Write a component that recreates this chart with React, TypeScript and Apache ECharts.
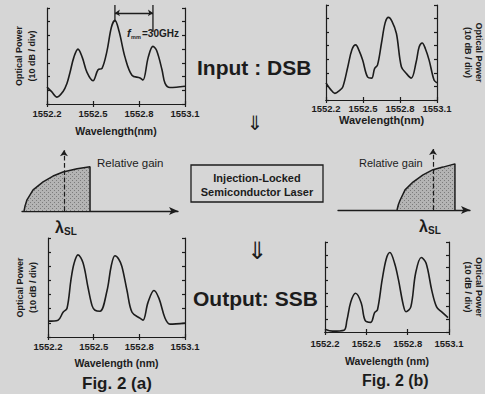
import React, { useEffect, useRef } from 'react';
import * as echarts from 'echarts';

const FONT = '"Liberation Sans", Arial, Helvetica, sans-serif';
const INK = '#1c1c1c';

// Wavelength axis
const WL_MIN = 1552.2;
const WL_MAX = 1553.1;
const WL_STEP = 0.3;
const wlTickLabels = ['1552.2', '1552.5', '1552.8', '1553.1'];

// Optical power (in 10 dB divisions)
const inputDsbA: [number, number][] = [
  [1552.2, 1.24], [1552.23, 0.9], [1552.265, 0.5], [1552.304, 0.9], [1552.33, 1.5], [1552.35, 2.3],
  [1552.375, 3.4], [1552.402, 4.0], [1552.43, 3.4], [1552.461, 2.3], [1552.5, 1.7], [1552.533, 2.5],
  [1552.559, 2.6], [1552.59, 3.8], [1552.62, 5.6], [1552.643, 6.1], [1552.67, 5.3], [1552.709, 3.4],
  [1552.754, 2.1], [1552.807, 1.9], [1552.826, 1.75], [1552.86, 3.4], [1552.891, 4.2], [1552.915, 3.9],
  [1552.95, 2.5], [1552.97, 1.5], [1553.002, 1.2], [1553.1, 1.3],
];
const inputDsbB: [number, number][] = [
  [1552.2, 1.26], [1552.235, 0.8], [1552.272, 0.49], [1552.31, 0.7], [1552.337, 0.98], [1552.377, 2.45],
  [1552.41, 3.7], [1552.441, 4.06], [1552.47, 3.6], [1552.497, 2.94], [1552.538, 1.68], [1552.57, 1.61],
  [1552.594, 2.31], [1552.618, 2.59], [1552.65, 4.2], [1552.68, 5.7], [1552.706, 6.09], [1552.735, 5.8],
  [1552.771, 4.9], [1552.811, 2.45], [1552.851, 1.96], [1552.891, 1.61], [1552.931, 2.8], [1552.955, 3.9],
  [1552.98, 4.2], [1553.005, 3.8], [1553.036, 2.94], [1553.076, 1.47], [1553.1, 1.26],
];
const outputSsbA: [number, number][] = [
  [1552.2, 1.12], [1552.266, 1.19], [1552.299, 1.75], [1552.325, 2.03], [1552.351, 4.06], [1552.371, 5.2],
  [1552.397, 5.81], [1552.43, 5.25], [1552.463, 3.5], [1552.49, 2.2], [1552.509, 1.89], [1552.542, 1.82],
  [1552.588, 3.29], [1552.615, 5.0], [1552.64, 5.74], [1552.665, 5.5], [1552.686, 4.97], [1552.719, 3.29],
  [1552.752, 1.75], [1552.804, 1.33], [1552.824, 1.19], [1552.857, 2.45], [1552.896, 3.29], [1552.929, 2.73],
  [1552.969, 1.33], [1553.001, 0.91], [1553.1, 0.98],
];
const outputSsbB: [number, number][] = [
  [1552.2, 0.22], [1552.255, 0.07], [1552.338, 0.14], [1552.359, 0.9], [1552.387, 2.33], [1552.422, 3.01],
  [1552.463, 2.26], [1552.491, 0.9], [1552.532, 0.75], [1552.56, 1.5], [1552.581, 1.73], [1552.615, 4.07],
  [1552.645, 5.7], [1552.671, 6.18], [1552.705, 5.35], [1552.733, 4.07], [1552.768, 2.11], [1552.788, 1.58],
  [1552.823, 1.95], [1552.858, 4.59], [1552.899, 5.8], [1552.934, 5.35], [1552.975, 3.24], [1553.01, 1.95],
  [1553.045, 1.58], [1553.093, 1.12],
];

// Relative gain curves (arbitrary units)
const gainA: [number, number][] = [
  [0.13, 0], [0.2, 0.08], [0.32, 0.17], [0.71, 0.32], [1.35, 0.44], [1.99, 0.53], [2.63, 0.59],
  [3.53, 0.64], [4.36, 0.67], [4.36, 0],
];
const gainB: [number, number][] = [
  [4.47, 0], [4.57, 0.08], [4.7, 0.15], [5.08, 0.31], [5.68, 0.43], [6.44, 0.54], [7.2, 0.62],
  [7.95, 0.66], [8.86, 0.71], [8.86, 0],
];
const lockA = 2.69;
const lockB = 7.2;

// f_mm marker (peaks of the DSB input): x, top of marker, bottom of marker (in divisions)
const fmmPeaks = [1552.643, 1552.891];
const fmmTop = 7.22;
const fmmBottoms = [5.98, 5.25];
const fmmArrowLevel = 6.64;

function stipple() {
  const c = document.createElement('canvas');
  c.width = 4;
  c.height = 4;
  const g = c.getContext('2d')!;
  g.fillStyle = '#b4b4b4';
  g.fillRect(0, 0, 4, 4);
  g.fillStyle = '#7c7c7c';
  g.fillRect(0, 0, 1, 1);
  g.fillRect(2, 2, 1, 1);
  return c;
}

const grids = [
  { left: 47, top: 8, width: 138, height: 96 },
  { left: 326, top: 5, width: 112, height: 95 },
  { left: 48, top: 238, width: 137, height: 99 },
  { left: 325, top: 242, width: 128, height: 90 },
  { left: 22, top: 145, width: 156, height: 66 },
  { left: 338, top: 145, width: 132, height: 65 },
];

const plotCfg = [
  { name: 'Wavelength(nm)', nameGap: 21, labelMargin: 4, nameSize: 10.5, side: 'left', yGap: 9 },
  { name: 'Wavelength(nm)', nameGap: 14, labelMargin: 3, nameSize: 11, side: 'right', yGap: 25 },
  { name: 'Wavelength (nm)', nameGap: 20, labelMargin: 4, nameSize: 10.5, side: 'left', yGap: 9 },
  { name: 'Wavelength (nm)', nameGap: 23, labelMargin: 6, nameSize: 10.5, side: 'right', yGap: 13 },
];

export default function App() {
  const ref = useRef<HTMLDivElement>(null);
  useEffect(() => {
    if (!ref.current) return;
    const chart = echarts.init(ref.current, undefined, { renderer: 'svg' });
    const line = { color: INK, width: 1.2 };
    const tick = { show: true, inside: true, length: 3, lineStyle: line };
    const xAxis: any[] = [];
    const yAxis: any[] = [];
    plotCfg.forEach((p, i) => {
      xAxis.push({
        type: 'value', gridIndex: i, position: 'bottom', min: WL_MIN, max: WL_MAX, interval: WL_STEP,
        axisLine: { show: true, lineStyle: line }, axisTick: tick, splitLine: { show: false },
        axisLabel: {
          margin: p.labelMargin, fontSize: 9.5, fontWeight: 'bold', color: INK, fontFamily: FONT,
          formatter: (v: number) => {
            const s = v.toFixed(1);
            return wlTickLabels.includes(s) ? s : '';
          },
        },
        name: p.name, nameLocation: 'middle', nameGap: p.nameGap,
        nameTextStyle: { fontSize: p.nameSize, fontWeight: 'bold', color: INK, fontFamily: FONT },
      });
      xAxis.push({
        type: 'value', gridIndex: i, position: 'top', min: WL_MIN, max: WL_MAX, interval: WL_STEP,
        axisLine: { show: true, lineStyle: line }, axisTick: tick, axisLabel: { show: false }, splitLine: { show: false },
      });
      const yName = {
        name: 'Optical Power\n(10 dB / div)', nameLocation: 'middle',
        nameTextStyle: { fontSize: 9, fontWeight: 'bold', color: INK, fontFamily: FONT, lineHeight: p.side === 'left' ? 12.5 : 11 },
      };
      yAxis.push({
        type: 'value', gridIndex: i, position: 'left', min: 0, max: 7, interval: 1,
        axisLine: { show: true, lineStyle: line }, axisTick: tick, axisLabel: { show: false }, splitLine: { show: false },
        ...(p.side === 'left' ? { ...yName, nameRotate: 90, nameGap: p.yGap } : {}),
      });
      yAxis.push({
        type: 'value', gridIndex: i, position: 'right', min: 0, max: 7, interval: 1,
        axisLine: { show: true, lineStyle: line }, axisTick: tick, axisLabel: { show: false }, splitLine: { show: false },
        ...(p.side === 'right' ? { ...yName, nameRotate: -90, nameGap: p.yGap } : {}),
      });
    });
    [4, 5].forEach((g) => {
      xAxis.push({
        type: 'value', gridIndex: g, min: 0, max: 10,
        axisLine: { show: true, symbol: ['none', 'arrow'], symbolSize: [6, 9], lineStyle: { color: INK, width: 1.3 } },
        axisTick: { show: false }, axisLabel: { show: false }, splitLine: { show: false },
      });
      yAxis.push({ type: 'value', gridIndex: g, min: 0, max: 1, show: false });
    });

    const spec = (data: [number, number][], idx: number, extra: any = {}) => ({
      type: 'line', xAxisIndex: idx * 2, yAxisIndex: idx * 2, data, smooth: 0.35,
      showSymbol: false, lineStyle: { color: INK, width: 1.6 }, silent: true, ...extra,
    });
    const pattern = { image: stipple(), repeat: 'repeat' };
    const gain = (data: [number, number][], idx: number, lock: number, top: number) => ({
      type: 'line', xAxisIndex: idx, yAxisIndex: idx, data, showSymbol: false, silent: true,
      lineStyle: { color: INK, width: 1.5 }, areaStyle: { color: pattern, opacity: 1 },
      markLine: {
        silent: true, symbol: ['none', 'arrow'], symbolSize: 6, label: { show: false },
        lineStyle: { color: INK, width: 1.2, type: 'dashed' },
        data: [[{ coord: [lock, 0] }, { coord: [lock, top] }]],
      },
    });

    const txt = (x: number, y: number, text: string, fontSize: number, extra: any = {}) => ({
      type: 'text', x, y,
      style: { text, fontSize, fill: INK, fontFamily: FONT, verticalAlign: 'middle', ...extra },
    });

    chart.setOption({
      animation: false,
      backgroundColor: '#d6d6d6',
      grid: grids,
      xAxis,
      yAxis,
      series: [
        spec(inputDsbA, 0, {
          markLine: {
            silent: true, label: { show: false },
            lineStyle: { color: INK, width: 1.3, type: 'solid' },
            data: [
              [
                { coord: [fmmPeaks[0], fmmArrowLevel], symbol: 'arrow', symbolSize: 5 },
                { coord: [fmmPeaks[1], fmmArrowLevel], symbol: 'arrow', symbolSize: 5 },
              ],
            ],
          },
        }),
        spec(inputDsbB, 1),
        spec(outputSsbA, 2),
        spec(outputSsbB, 3),
        gain(gainA, 8, lockA, 0.92),
        gain(gainB, 9, lockB, 0.94),
      ],
      graphic: [
        txt(127, 33, 'f', 11, { fontStyle: 'italic', fontWeight: 'bold' }),
        txt(131, 36.5, 'mm', 5.5, { fontWeight: 'bold' }),
        txt(142, 33, '=30GHz', 10, { fontWeight: 'bold' }),
        txt(197, 67, 'Input : DSB', 21, { fontWeight: 'bold' }),
        txt(255, 123, '⇓', 20, { fontFamily: '"DejaVu Sans"', align: 'center' }),
        { type: 'rect', shape: { x: 191, y: 165, width: 132, height: 37 }, style: { fill: 'none', stroke: INK, lineWidth: 1.3 } },
        txt(257, 178, 'Injection-Locked', 11, { fontWeight: 'bold', align: 'center' }),
        txt(257, 192, 'Semiconductor Laser', 11, { fontWeight: 'bold', align: 'center' }),
        txt(97, 163, 'Relative gain', 11.5),
        txt(359, 163, 'Relative gain', 11),
        txt(55, 227, 'λ', 16, { fontWeight: 'bold' }),
        txt(64, 231, 'SL', 10, { fontWeight: 'bold' }),
        txt(419, 226, 'λ', 16, { fontWeight: 'bold' }),
        txt(428, 230, 'SL', 10, { fontWeight: 'bold' }),
        txt(257, 251, '⇓', 24, { fontFamily: '"DejaVu Sans"', align: 'center' }),
        txt(193, 298, 'Output: SSB', 21, { fontWeight: 'bold' }),
        txt(82, 383, 'Fig. 2 (a)', 17, { fontWeight: 'bold' }),
        txt(362, 380, 'Fig. 2 (b)', 16, { fontWeight: 'bold' }),
      ],
    });

    // f_mm marker lines, placed from data coordinates through the grid's own scales
    const markerLines = fmmPeaks.map((x, k) => {
      const a = chart.convertToPixel({ gridIndex: 0 }, [x, fmmTop]) as number[];
      const b = chart.convertToPixel({ gridIndex: 0 }, [x, fmmBottoms[k]]) as number[];
      return {
        type: 'line', id: 'fmm' + k,
        shape: { x1: a[0], y1: a[1], x2: b[0], y2: b[1] },
        style: { stroke: INK, lineWidth: 1.3 },
      };
    });
    chart.setOption({ graphic: { elements: markerLines } });

    return () => chart.dispose();
  }, []);
  return <div ref={ref} style={{ position: 'absolute', left: 0, top: 0, width: 485, height: 394 }} />;
}
